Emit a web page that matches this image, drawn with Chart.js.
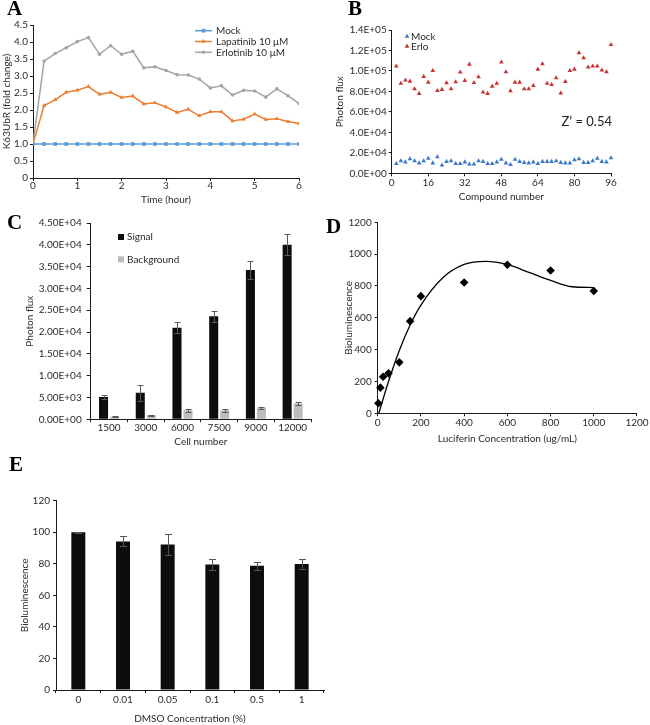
<!DOCTYPE html>
<html>
<head>
<meta charset="utf-8">
<script src="https://cdn.jsdelivr.net/npm/chart.js@4.4.1/dist/chart.umd.min.js"></script>
<style>
html,body{margin:0;padding:0;background:#fff;}
#wrap{position:relative;width:650px;height:725px;overflow:hidden;background:#fff;}
canvas{position:absolute;}
.pl{position:absolute;font-family:"Liberation Serif","Times New Roman",serif;font-weight:bold;font-size:21px;line-height:21px;color:#000;}
</style>
</head>
<body>
<div id="wrap">
<canvas id="cA" width="325" height="215" style="left:0;top:0"></canvas>
<canvas id="cB" width="325" height="210" style="left:325px;top:0"></canvas>
<canvas id="cC" width="325" height="243" style="left:0;top:212px"></canvas>
<canvas id="cD" width="325" height="240" style="left:325px;top:212px"></canvas>
<canvas id="cE" width="330" height="235" style="left:0;top:490px"></canvas>
<div class="pl" style="left:7px;top:-2px">A</div>
<div class="pl" style="left:348px;top:-2px">B</div>
<div class="pl" style="left:7px;top:212px">C</div>
<div class="pl" style="left:326px;top:216px">D</div>
<div class="pl" style="left:9px;top:454px">E</div>
</div>
<script>
// ---------- Panel A data ----------
const timeA = [0,0.25,0.5,0.75,1,1.25,1.5,1.75,2,2.25,2.5,2.75,3,3.25,3.5,3.75,4,4.25,4.5,4.75,5,5.25,5.5,5.75,6];
const mockA = [1,1,1,1,1,1,1,1,1,1,1,1,1,1,1,1,1,1,1,1,1,1,1,1,1];
const lapatinibA = [1,2.13,2.30,2.52,2.58,2.69,2.46,2.52,2.37,2.41,2.18,2.21,2.09,1.93,2.02,1.83,1.95,1.95,1.68,1.73,1.88,1.72,1.74,1.66,1.60];
const erlotinibA = [1,3.44,3.66,3.83,4.01,4.13,3.64,3.89,3.64,3.73,3.24,3.27,3.16,3.04,3.03,2.91,2.65,2.71,2.44,2.58,2.56,2.38,2.62,2.42,2.19];
const seriesA = ['Mock','Lapatinib 10 μM','Erlotinib 10 μM'];

// ---------- Panel B data ----------
const compoundB = [2,4,6,8,10,12,14,16,18,20,22,24,26,28,30,32,34,36,38,40,42,44,46,48,50,52,54,56,58,60,62,64,66,68,70,72,74,76,78,80,82,84,86,88,90,92,94,96];
const mockB = [9500,12000,11000,14000,12000,10000,12000,14500,10000,16000,8000,11500,12000,9500,9500,11000,9000,9000,12000,11500,9500,9500,11000,13500,10000,8500,13500,11500,10500,10000,11000,9500,11500,11500,11500,12000,10500,10000,10000,13000,14000,10500,10500,12000,14500,11500,11000,15000];
const erloB = [104600,87900,90900,89900,82400,77900,94500,88900,100300,80800,81800,88300,82400,89300,98700,90600,106500,88600,94100,79200,77900,85000,87900,108500,99000,80500,88900,88900,82400,82400,85700,101600,106800,87900,86600,93200,78200,89600,100300,101600,117600,112700,103600,104600,104600,100700,99000,125700];
const seriesB = ['Mock','Erlo'];
const zPrimeB = 'Z’ = 0.54';

// ---------- Panel C data ----------
const cellsC = ['1500','3000','6000','7500','9000','12000'];
const signalC = [5100,6100,21000,23600,34200,40000];
const signalErrC = [450,1800,1200,1200,2000,2400];
const backgroundC = [600,900,2050,2050,2650,3650];
const backgroundErrC = [150,200,350,300,200,350];
const seriesC = ['Signal','Background'];

// ---------- Panel D data ----------
const luciferinD = [3,12.5,25,50,100,150,200,400,600,800,1000];
const bioD = [63,161,230,251,320,579,736,822,933,897,768];
const fitXD = [5,25,50,100,150,200,300,400,500,600,700,800,900,1000];
const fitYD = [0,90,200,395,555,680,850,935,955,935,885,835,795,790];

// ---------- Panel E data ----------
const dmsoE = ['0','0.01','0.05','0.1','0.5','1'];
const bioE = [100,94.2,92.3,79.6,78.8,79.9];
const bioErrE = [0.3,3.2,6.5,3.4,2.6,3.2];

// ---------- helpers ----------
const FONT = 'Lato, "Open Sans", sans-serif';
const TXT = '#2b2b2b';
const AX = '#1a1a1a';
Chart.defaults.font.family = FONT;
Chart.defaults.color = TXT;

const pts = (xs, ys) => xs.map((x, i) => ({x: x, y: ys[i]}));
function sci(v, d) {
  if (v === 0) return (0).toFixed(d) + 'E+00';
  const e = Math.floor(Math.log10(Math.abs(v)) + 1e-9);
  const m = v / Math.pow(10, e);
  return m.toFixed(d) + 'E' + (e < 0 ? '-' : '+') + String(Math.abs(e)).padStart(2, '0');
}
function scale(o) {
  const s = {
    type: o.type || 'linear',
    offset: !!o.offset,
    grid: {display: true, drawOnChartArea: false, drawTicks: true, tickLength: o.tl, color: AX, lineWidth: 1},
    border: {display: true, color: AX, width: 1},
    ticks: {padding: o.tp, color: TXT, font: {family: FONT, size: o.fs || 10, lineHeight: 1}, autoSkip: false, maxRotation: 0, minRotation: 0},
    title: {display: true, text: o.title, color: TXT, font: {family: FONT, size: o.tfs || 10, lineHeight: 1.2}, padding: {top: o.tpad, bottom: o.tpad}},
    afterFit: (sc) => { if (o.w != null) sc.width = o.w; if (o.h != null) sc.height = o.h; }
  };
  if (o.min != null) s.min = o.min;
  if (o.max != null) s.max = o.max;
  if (o.step != null) s.ticks.stepSize = o.step;
  if (o.fmt) s.ticks.callback = o.fmt;
  if (o.gridOffset != null) s.grid.offset = o.gridOffset;
  return s;
}
function marker(ctx, style, x, y, r, color) {
  ctx.save(); ctx.fillStyle = color; ctx.beginPath();
  if (style === 'triangle') { ctx.moveTo(x, y - r); ctx.lineTo(x + r * 0.866, y + r * 0.5); ctx.lineTo(x - r * 0.866, y + r * 0.5); ctx.closePath(); }
  else if (style === 'rect') { const s = r * Math.SQRT1_2; ctx.rect(x - s, y - s, 2 * s, 2 * s); }
  else if (style === 'rectRot') { ctx.moveTo(x, y - r); ctx.lineTo(x + r, y); ctx.lineTo(x, y + r); ctx.lineTo(x - r, y); ctx.closePath(); }
  else { ctx.arc(x, y, r, 0, Math.PI * 2); }
  ctx.fill(); ctx.restore();
}
function legendAt(cfg) {
  return {id: 'legendAt', afterDraw(chart) {
    const ctx = chart.ctx; ctx.save();
    ctx.font = (cfg.size || 10) + 'px ' + FONT; ctx.textBaseline = 'middle'; ctx.textAlign = 'left';
    chart.data.datasets.forEach((ds, i) => {
      const y = cfg.y + i * cfg.dy, x = cfg.x;
      if (cfg.kind === 'line') {
        ctx.strokeStyle = ds.borderColor; ctx.lineWidth = ds.borderWidth || 1.5;
        ctx.beginPath(); ctx.moveTo(x, y); ctx.lineTo(x + cfg.len, y); ctx.stroke();
        marker(ctx, ds.pointStyle, x + cfg.len / 2, y, ds.pointRadius, ds.backgroundColor);
        ctx.fillStyle = TXT; ctx.fillText(ds.label, x + cfg.len + cfg.gap, y);
      } else if (cfg.kind === 'point') {
        marker(ctx, ds.pointStyle, x, y, ds.pointRadius, ds.backgroundColor);
        ctx.fillStyle = TXT; ctx.fillText(ds.label, x + cfg.gap, y);
      } else {
        ctx.fillStyle = ds.backgroundColor; ctx.fillRect(x - cfg.box / 2, y - cfg.box / 2, cfg.box, cfg.box);
        ctx.fillStyle = TXT; ctx.fillText(ds.label, x + cfg.gap, y);
      }
    });
    ctx.restore();
  }};
}
const errorBars = {
  id: 'errorBars',
  afterDatasetsDraw(chart) {
    const ctx = chart.ctx, ys = chart.scales.y;
    chart.data.datasets.forEach((ds, i) => {
      if (!ds.errors) return;
      const meta = chart.getDatasetMeta(i);
      ctx.save(); ctx.strokeStyle = ds.errorColor || '#555'; ctx.lineWidth = 1;
      meta.data.forEach((bar, j) => {
        const v = ds.data[j], e = ds.errors[j];
        const x = Math.round(bar.x) + 0.5;
        const yt = Math.round(ys.getPixelForValue(v + e)) + 0.5, yb = Math.round(ys.getPixelForValue(v - e)) + 0.5;
        const cw = ds.capWidth || 3;
        ctx.beginPath();
        ctx.moveTo(x, yt); ctx.lineTo(x, yb);
        ctx.moveTo(x - cw, yt); ctx.lineTo(x + cw, yt);
        ctx.moveTo(x - cw, yb); ctx.lineTo(x + cw, yb);
        ctx.stroke();
      });
      ctx.restore();
    });
  }
};
const base = {responsive: false, animation: false, events: [], plugins: {legend: {display: false}, tooltip: {enabled: false}}};

// ---------- Chart A ----------
new Chart(document.getElementById('cA'), {
  type: 'line',
  data: {datasets: [
    {label: seriesA[0], data: pts(timeA, mockA), borderColor: '#5B9BD5', backgroundColor: '#5B9BD5', pointStyle: 'rect', pointRadius: 2.6, pointBorderWidth: 0, borderWidth: 1.5},
    {label: seriesA[1], data: pts(timeA, lapatinibA), borderColor: '#ED7D31', backgroundColor: '#ED7D31', pointStyle: 'triangle', pointRadius: 2.5, pointBorderWidth: 0, borderWidth: 1.5},
    {label: seriesA[2], data: pts(timeA, erlotinibA), borderColor: '#A5A5A5', backgroundColor: '#A5A5A5', pointStyle: 'circle', pointRadius: 1.8, pointBorderWidth: 0, borderWidth: 1.5}
  ]},
  options: Object.assign({}, base, {
    layout: {padding: {left: 0, top: 25, right: 26, bottom: 7}},
    scales: {
      x: scale({min: 0, max: 6, step: 1, title: 'Time (hour)', h: 30, tl: 3, tp: 0, tpad: 2}),
      y: scale({min: 0, max: 4.5, step: 0.5, title: 'K63UbR (fold change)', w: 33, tl: 3, tp: 2, tpad: 0.7})
    }
  }),
  plugins: [legendAt({kind: 'line', x: 195, y: 30.7, dy: 10.8, len: 17, gap: 4})]
});

// ---------- Chart B ----------
new Chart(document.getElementById('cB'), {
  type: 'scatter',
  data: {datasets: [
    {label: seriesB[0], data: pts(compoundB, mockB), backgroundColor: '#3C78C8', borderColor: '#3C78C8', pointStyle: 'triangle', pointRadius: 2.7, pointBorderWidth: 0, clip: false},
    {label: seriesB[1], data: pts(compoundB, erloB), backgroundColor: '#C83232', borderColor: '#C83232', pointStyle: 'triangle', pointRadius: 2.7, pointBorderWidth: 0, clip: false}
  ]},
  options: Object.assign({}, base, {
    layout: {padding: {left: 0, top: 30, right: 39, bottom: 5.3}},
    scales: {
      x: scale({min: 0, max: 96, step: 16, title: 'Compound number', h: 31.4, tl: 3, tp: 1.4, tpad: 2}),
      y: scale({min: 0, max: 140000, step: 20000, fmt: (v) => sci(v, 1), title: 'Photon flux', w: 66.7, tl: 3, tp: 2, tpad: 9})
    }
  }),
  plugins: [legendAt({kind: 'point', x: 82, y: 36.5, dy: 9.8, gap: 4}), {
    id: 'zText', afterDraw(chart) {
      const ctx = chart.ctx; ctx.save();
      ctx.font = '13px ' + FONT; ctx.fillStyle = '#222'; ctx.textAlign = 'right'; ctx.textBaseline = 'middle';
      ctx.fillText(zPrimeB, chart.chartArea.right + 1, 121.7); ctx.restore();
    }
  }]
});

// ---------- Chart C ----------
new Chart(document.getElementById('cC'), {
  type: 'bar',
  data: {labels: cellsC, datasets: [
    {label: seriesC[0], data: signalC, errors: signalErrC, errorColor: '#5a5a5a', backgroundColor: '#0d0d0d', barPercentage: 0.82, categoryPercentage: 0.6},
    {label: seriesC[1], data: backgroundC, errors: backgroundErrC, errorColor: '#5a5a5a', backgroundColor: '#bdbdbd', barPercentage: 0.82, categoryPercentage: 0.6}
  ]},
  options: Object.assign({}, base, {
    layout: {padding: {left: 0, top: 11, right: 14, bottom: 5.3}},
    scales: {
      x: scale({type: 'category', offset: true, gridOffset: true, title: 'Cell number', h: 30.4, tl: 3, tp: 0, tpad: 2}),
      y: scale({min: 0, max: 45000, step: 5000, fmt: (v) => sci(v, 2), title: 'Photon flux', w: 90.7, tl: 4, tp: 5, tpad: 23.3})
    }
  }),
  plugins: [errorBars, legendAt({kind: 'box', x: 121, y: 25, dy: 22.3, box: 6, gap: 6})]
});

// ---------- Chart D ----------
new Chart(document.getElementById('cD'), {
  type: 'scatter',
  data: {datasets: [
    {label: 'Bioluminescence', data: pts(luciferinD, bioD), pointStyle: 'rectRot', pointRadius: 4.3, pointBorderWidth: 0, backgroundColor: '#000', borderColor: '#000', clip: false},
    {label: 'Trend', data: pts(fitXD, fitYD), showLine: true, pointRadius: 0, borderColor: '#000', backgroundColor: '#000', borderWidth: 1.3, cubicInterpolationMode: 'monotone', fill: false, clip: false}
  ]},
  options: Object.assign({}, base, {
    layout: {padding: {left: 0, top: 10.3, right: 11, bottom: 5.7}},
    scales: {
      x: scale({min: 0, max: 1200, step: 200, fmt: (v) => String(v), title: 'Luciferin Concentration (ug/mL)', h: 33, tl: 3, tp: 1.4, tpad: 2}),
      y: scale({min: 0, max: 1200, step: 200, fmt: (v) => String(v), title: 'Bioluminescence', w: 52.7, tl: 3, tp: 3, tpad: 17.3})
    }
  })
});

// ---------- Chart E ----------
new Chart(document.getElementById('cE'), {
  type: 'bar',
  data: {labels: dmsoE, datasets: [
    {label: 'Bioluminescence', data: bioE, errors: bioErrE, errorColor: '#555', capWidth: 3.5, backgroundColor: '#0d0d0d', barPercentage: 0.626, categoryPercentage: 0.5}
  ]},
  options: Object.assign({}, base, {
    layout: {padding: {left: 0, top: 10.7, right: 6, bottom: 0}},
    scales: {
      x: scale({type: 'category', offset: true, gridOffset: true, title: 'DMSO Concentration (%)', h: 35, tl: 3, tp: 2, tpad: 0}),
      y: scale({min: 0, max: 120, step: 20, title: 'Bioluminescence', w: 56, tl: 3, tp: 3, tpad: 19})
    }
  }),
  plugins: [errorBars]
});
</script>
</body>
</html>
